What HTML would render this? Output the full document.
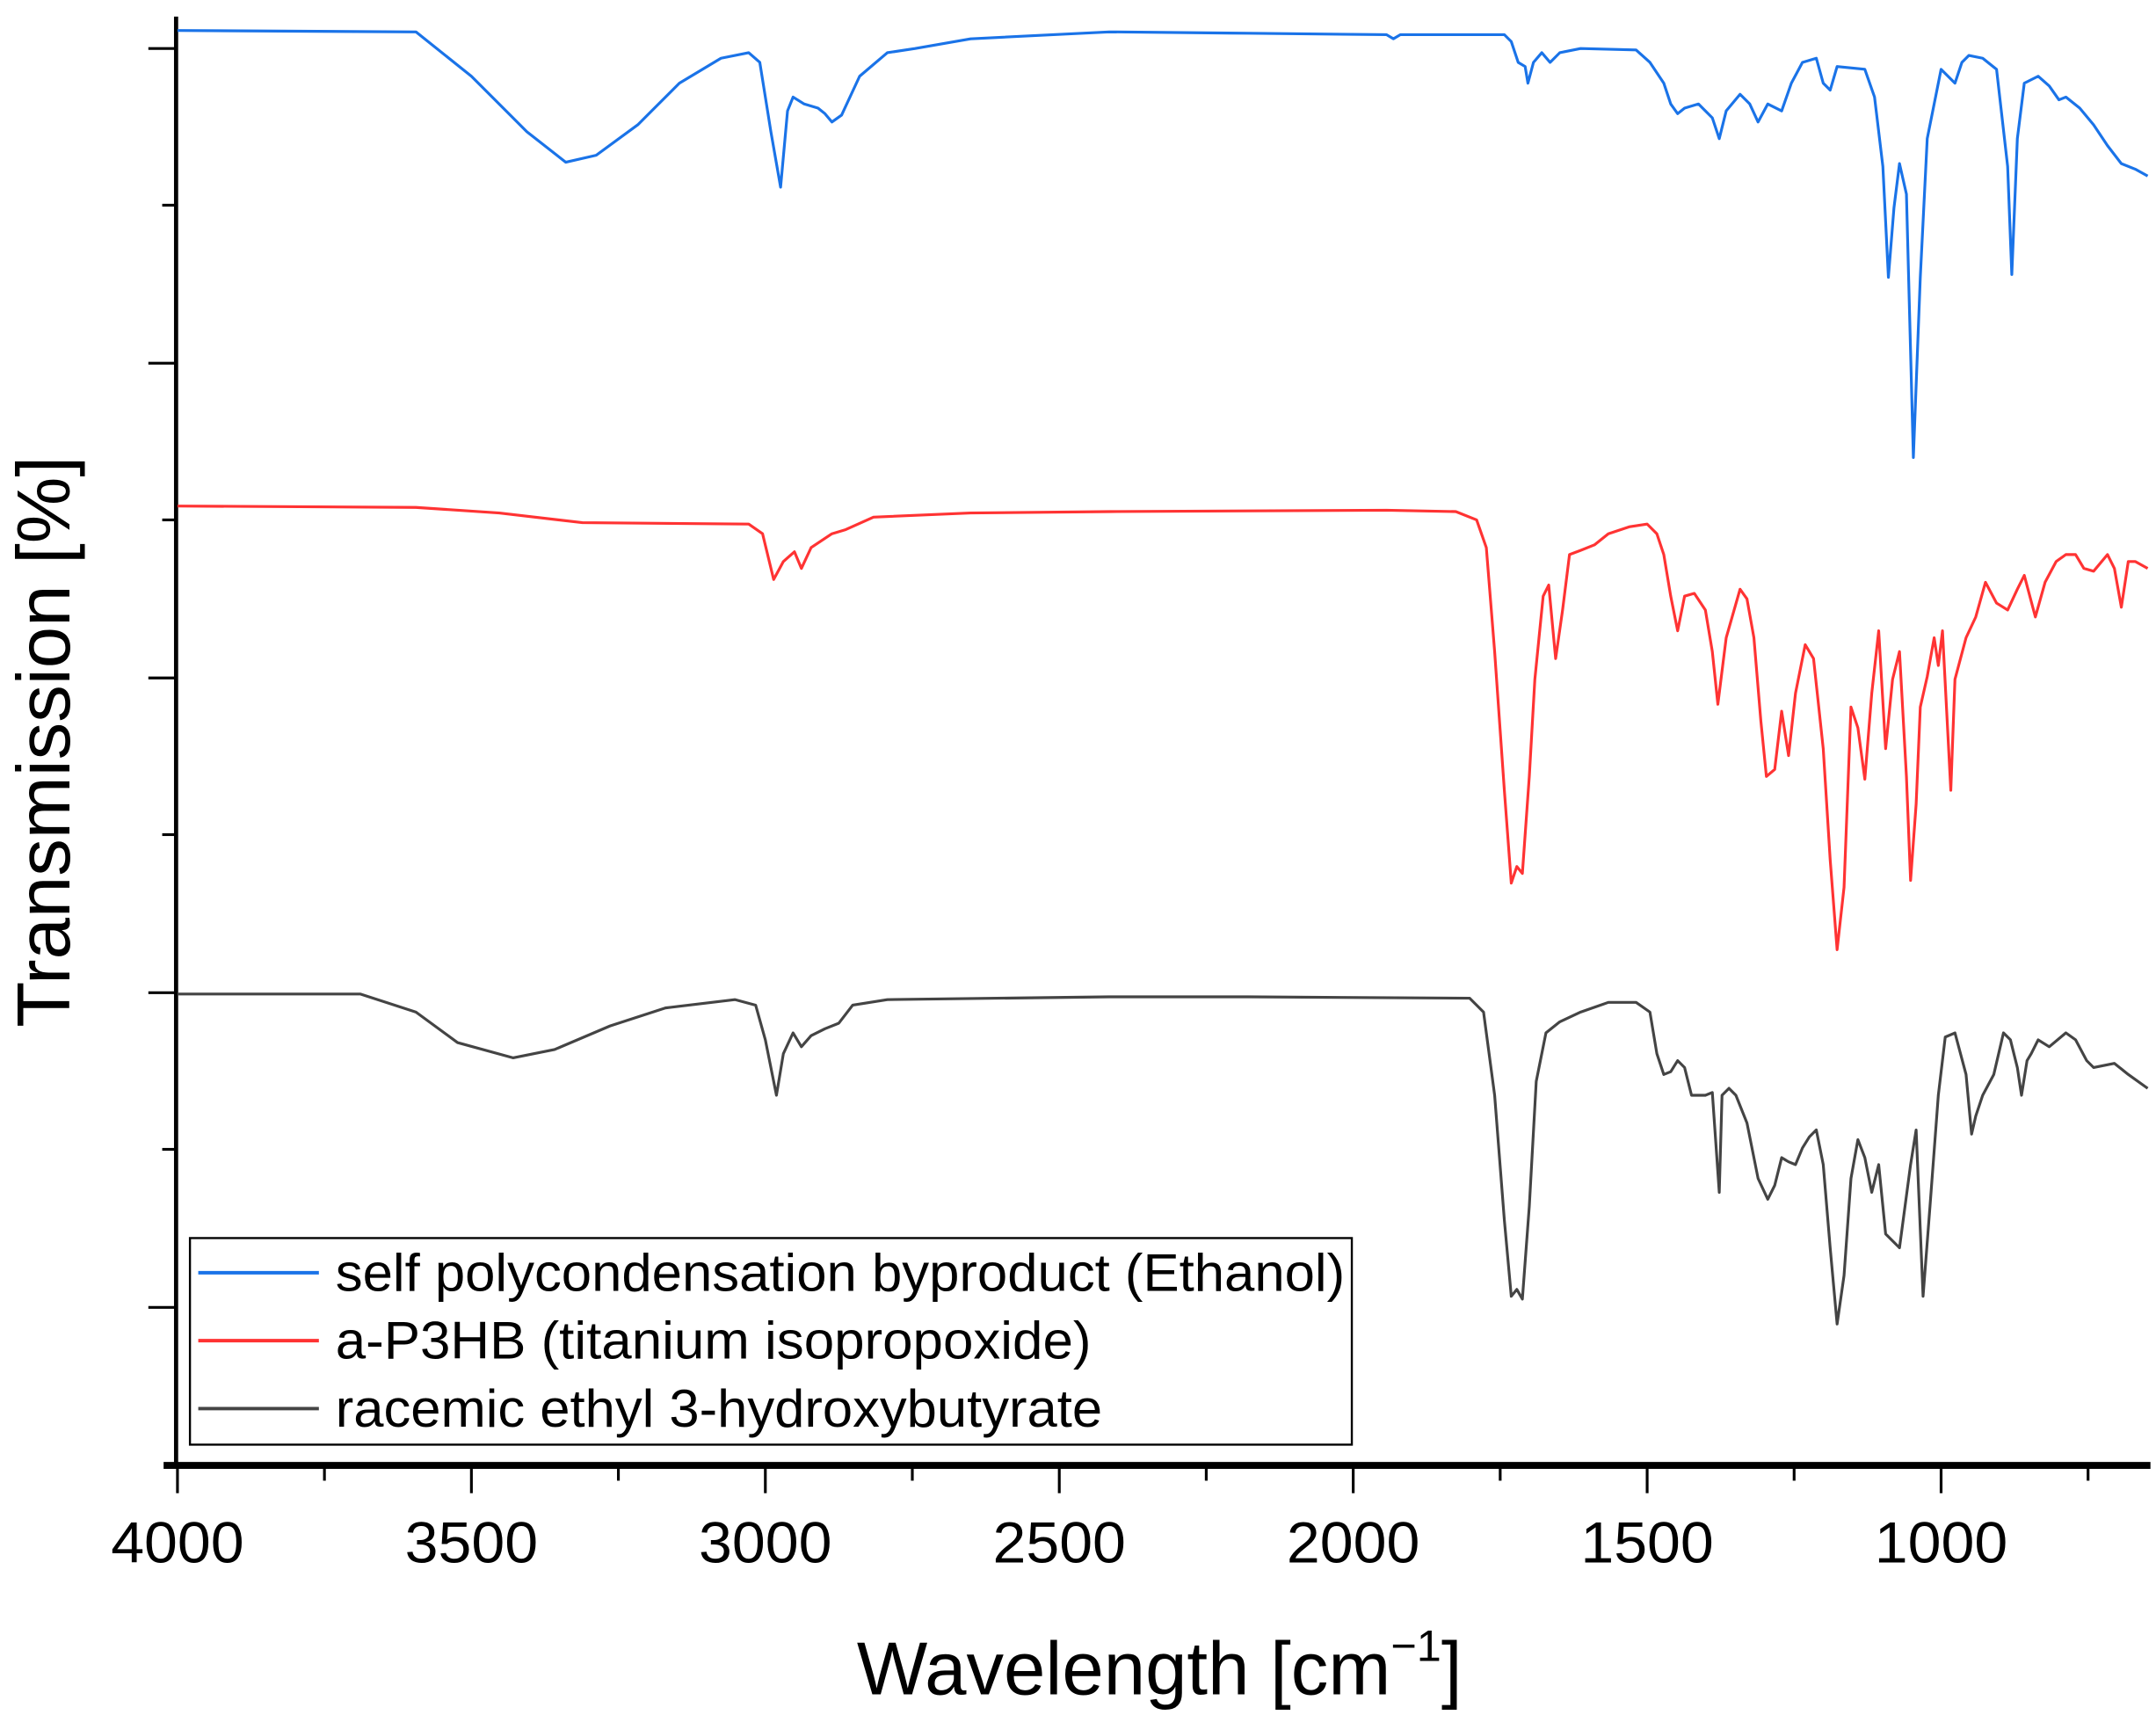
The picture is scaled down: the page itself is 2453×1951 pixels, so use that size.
<!DOCTYPE html>
<html><head><meta charset="utf-8"><style>
html,body{margin:0;padding:0;background:#fff;}
svg{display:block;}
text{font-family:"Liberation Sans",Arial,sans-serif;fill:#000;}
</style></head><body>
<svg width="2453" height="1951" viewBox="0 0 1555 1237" preserveAspectRatio="none" xmlns="http://www.w3.org/2000/svg">
<rect width="1555" height="1237" fill="#fff"/>
<line x1="127" y1="12" x2="127" y2="1058" stroke="#000" stroke-width="3"/>
<line x1="118" y1="1057" x2="1551" y2="1057" stroke="#000" stroke-width="5"/>
<g stroke="#000" stroke-width="2">
<line x1="107" y1="35" x2="127" y2="35"/><line x1="117" y1="148" x2="127" y2="148"/>
<line x1="107" y1="262" x2="127" y2="262"/><line x1="117" y1="375" x2="127" y2="375"/>
<line x1="107" y1="489" x2="127" y2="489"/><line x1="117" y1="602" x2="127" y2="602"/>
<line x1="107" y1="716" x2="127" y2="716"/><line x1="117" y1="829" x2="127" y2="829"/>
<line x1="107" y1="943" x2="127" y2="943"/>
<line x1="128" y1="1059" x2="128" y2="1077"/><line x1="234" y1="1059" x2="234" y2="1068"/>
<line x1="340" y1="1059" x2="340" y2="1077"/><line x1="446" y1="1059" x2="446" y2="1068"/>
<line x1="552" y1="1059" x2="552" y2="1077"/><line x1="658" y1="1059" x2="658" y2="1068"/>
<line x1="764" y1="1059" x2="764" y2="1077"/><line x1="870" y1="1059" x2="870" y2="1068"/>
<line x1="976" y1="1059" x2="976" y2="1077"/><line x1="1082" y1="1059" x2="1082" y2="1068"/>
<line x1="1188" y1="1059" x2="1188" y2="1077"/><line x1="1294" y1="1059" x2="1294" y2="1068"/>
<line x1="1400" y1="1059" x2="1400" y2="1077"/><line x1="1506" y1="1059" x2="1506" y2="1068"/>
</g>
<g font-size="42" text-anchor="middle">
<text x="128" y="1127" textLength="96" lengthAdjust="spacingAndGlyphs">4000</text>
<text x="340" y="1127" textLength="96" lengthAdjust="spacingAndGlyphs">3500</text>
<text x="552" y="1127" textLength="96" lengthAdjust="spacingAndGlyphs">3000</text>
<text x="764" y="1127" textLength="96" lengthAdjust="spacingAndGlyphs">2500</text>
<text x="976" y="1127" textLength="96" lengthAdjust="spacingAndGlyphs">2000</text>
<text x="1188" y="1127" textLength="96" lengthAdjust="spacingAndGlyphs">1500</text>
<text x="1400" y="1127" textLength="96" lengthAdjust="spacingAndGlyphs">1000</text>
</g>
<text x="618" y="1222" font-size="54">Wavelength [cm<tspan font-size="32" dy="-24">−1</tspan><tspan dy="24">]</tspan></text>
<text transform="translate(50,535) rotate(-90)" font-size="54" text-anchor="middle">Transmission [%]</text>
<g fill="none" stroke-width="2" stroke-linejoin="round">
<polyline stroke="#1a73e8" points="128,22 300,23 340,55 380,95 408,117 430,112 460,90 490,60 520,42 540,38 548,45 556,95 563,135 568,80 572,70 580,75 590,78 595,82 600,88 607,83 620,55 640,38 660,35 700,28 800,23 900,24 1000,25 1005,28 1010,25 1085,25 1090,30 1095,45 1100,48 1102,60 1106,45 1112,38 1118,45 1125,38 1140,35 1180,36 1190,45 1200,60 1205,75 1210,82 1215,78 1225,75 1235,85 1240,100 1245,80 1255,68 1262,75 1268,88 1275,75 1285,80 1292,60 1300,45 1310,42 1315,60 1320,65 1325,48 1345,50 1352,70 1358,120 1362,200 1366,150 1370,118 1375,140 1380,330 1385,200 1390,100 1400,50 1410,60 1415,45 1420,40 1430,42 1440,50 1448,120 1451,198 1455,100 1460,60 1470,55 1478,62 1485,72 1490,70 1500,78 1510,90 1520,105 1530,118 1540,122 1549,127"/>
<polyline stroke="#f33" points="128,365 300,366 360,370 420,377 540,378 550,385 558,418 565,405 573,398 578,410 585,395 600,385 610,382 630,373 700,370 800,369 1000,368 1050,369 1065,375 1072,395 1078,470 1085,570 1090,637 1094,625 1098,630 1103,560 1107,490 1113,430 1117,422 1122,475 1127,440 1132,400 1140,397 1150,393 1160,385 1175,380 1188,378 1195,385 1200,400 1205,430 1210,455 1215,430 1222,428 1230,440 1235,470 1239,508 1245,460 1255,425 1260,432 1265,460 1270,520 1274,560 1280,555 1285,513 1290,545 1295,500 1302,465 1308,475 1315,540 1320,620 1325,685 1330,640 1335,510 1340,525 1345,562 1350,500 1355,455 1360,540 1365,490 1370,470 1375,560 1378,635 1382,580 1385,510 1390,488 1395,460 1398,480 1401,455 1407,570 1410,490 1418,460 1425,445 1432,420 1440,435 1448,440 1455,425 1460,415 1468,445 1475,420 1483,405 1490,400 1497,400 1503,410 1510,412 1520,400 1525,410 1530,438 1535,405 1540,405 1549,410"/>
<polyline stroke="#444" points="128,717 260,717 300,730 330,752 370,763 400,757 440,740 480,727 530,721 545,725 552,750 560,790 565,760 572,745 578,755 585,747 595,742 605,738 615,725 640,721 800,719 900,719 1060,720 1070,730 1078,790 1085,880 1090,935 1094,930 1098,937 1103,870 1108,780 1115,745 1125,737 1140,730 1160,723 1180,723 1190,730 1195,760 1200,775 1205,773 1210,765 1215,770 1220,790 1230,790 1235,788 1240,860 1242,790 1247,785 1252,790 1260,810 1268,850 1275,865 1280,855 1285,835 1290,838 1295,840 1300,828 1305,820 1310,815 1315,840 1320,900 1325,955 1330,920 1335,850 1340,822 1345,835 1350,860 1355,840 1360,890 1365,895 1370,900 1378,840 1382,815 1387,935 1392,870 1398,790 1403,748 1410,745 1418,775 1422,818 1425,805 1430,790 1438,775 1445,745 1450,750 1455,770 1458,790 1462,765 1465,760 1470,750 1478,755 1490,745 1497,750 1505,765 1510,770 1525,767 1535,775 1549,785"/>
</g>
<rect x="137" y="893" width="838" height="149" fill="#fff" stroke="#000" stroke-width="1.5"/>
<line x1="143" y1="918" x2="230" y2="918" stroke="#1a73e8" stroke-width="2.5"/>
<line x1="143" y1="967" x2="230" y2="967" stroke="#f33" stroke-width="2.5"/>
<line x1="143" y1="1016" x2="230" y2="1016" stroke="#444" stroke-width="2.5"/>
<g font-size="38">
<text x="242" y="931" textLength="728" lengthAdjust="spacingAndGlyphs">self polycondensation byproduct (Ethanol)</text>
<text x="242" y="980" textLength="545" lengthAdjust="spacingAndGlyphs">a-P3HB (titanium isopropoxide)</text>
<text x="242" y="1029" textLength="553" lengthAdjust="spacingAndGlyphs">racemic ethyl 3-hydroxybutyrate</text>
</g>
</svg>
</body></html>
